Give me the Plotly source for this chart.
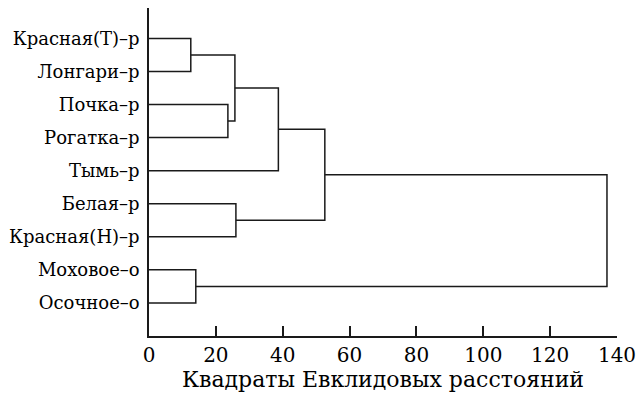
import plotly.graph_objects as go

leaves = ["Красная(Т)–р", "Лонгари–р", "Почка–р", "Рогатка–р", "Тымь–р",
          "Белая–р", "Красная(Н)–р", "Моховое–о", "Осочное–о"]
# linkage: node ids 0..8 are leaves, merges create ids 9, 10, ...
merge_left = [0, 2, 9, 11, 5, 12, 7, 14]
merge_right = [1, 3, 10, 4, 6, 13, 8, 15]
merge_height = [12.5, 23.6, 25.7, 38.7, 26.0, 52.6, 14.0, 137.0]
x_ticks = [0, 20, 40, 60, 80, 100, 120, 140]
x_title = "Квадраты Евклидовых расстояний"

n = len(leaves)
node_x = {i: 0.0 for i in range(n)}
node_y = {i: float(i + 1) for i in range(n)}
xs, ys = [], []
for k, (a, b, h) in enumerate(zip(merge_left, merge_right, merge_height)):
    nid = n + k
    xs += [node_x[a], h, h, node_x[b], None]
    ys += [node_y[a], node_y[a], node_y[b], node_y[b], None]
    node_x[nid] = h
    node_y[nid] = (node_y[a] + node_y[b]) / 2

ff = "DejaVu Serif, serif"
fig = go.Figure()
fig.add_trace(go.Scatter(x=xs, y=ys, mode="lines",
                         line=dict(color="#1a1a1a", width=1.5),
                         hoverinfo="skip", showlegend=False))
fig.update_layout(
    width=639, height=396,
    margin=dict(l=149, r=22, t=8, b=60),
    paper_bgcolor="white", plot_bgcolor="white",
    font=dict(family=ff, color="black"),
    showlegend=False,
)
fig.update_xaxes(range=[0, 140], tickvals=x_ticks, ticks="inside", ticklen=10,
                 tickwidth=1.5, tickcolor="#1a1a1a", showline=True,
                 linecolor="#1a1a1a", linewidth=1.5, showgrid=False,
                 zeroline=False, automargin=False,
                 tickfont=dict(family=ff, size=20, color="black"),
                 title=dict(text=x_title, font=dict(family=ff, size=22, color="black"),
                            standoff=2))
fig.update_yaxes(range=[10, 0.08], tickvals=list(range(1, n + 1)),
                 ticktext=leaves, ticks="", showline=True,
                 linecolor="#1a1a1a", linewidth=1.5, showgrid=False,
                 zeroline=False, automargin=False,
                 tickfont=dict(family=ff, size=18, color="black"),
                 ticklabelstandoff=4)
fig.write_html("out.html", config={"displayModeBar": False},
               post_script="document.body.style.margin='0';document.body.style.overflow='hidden';")
